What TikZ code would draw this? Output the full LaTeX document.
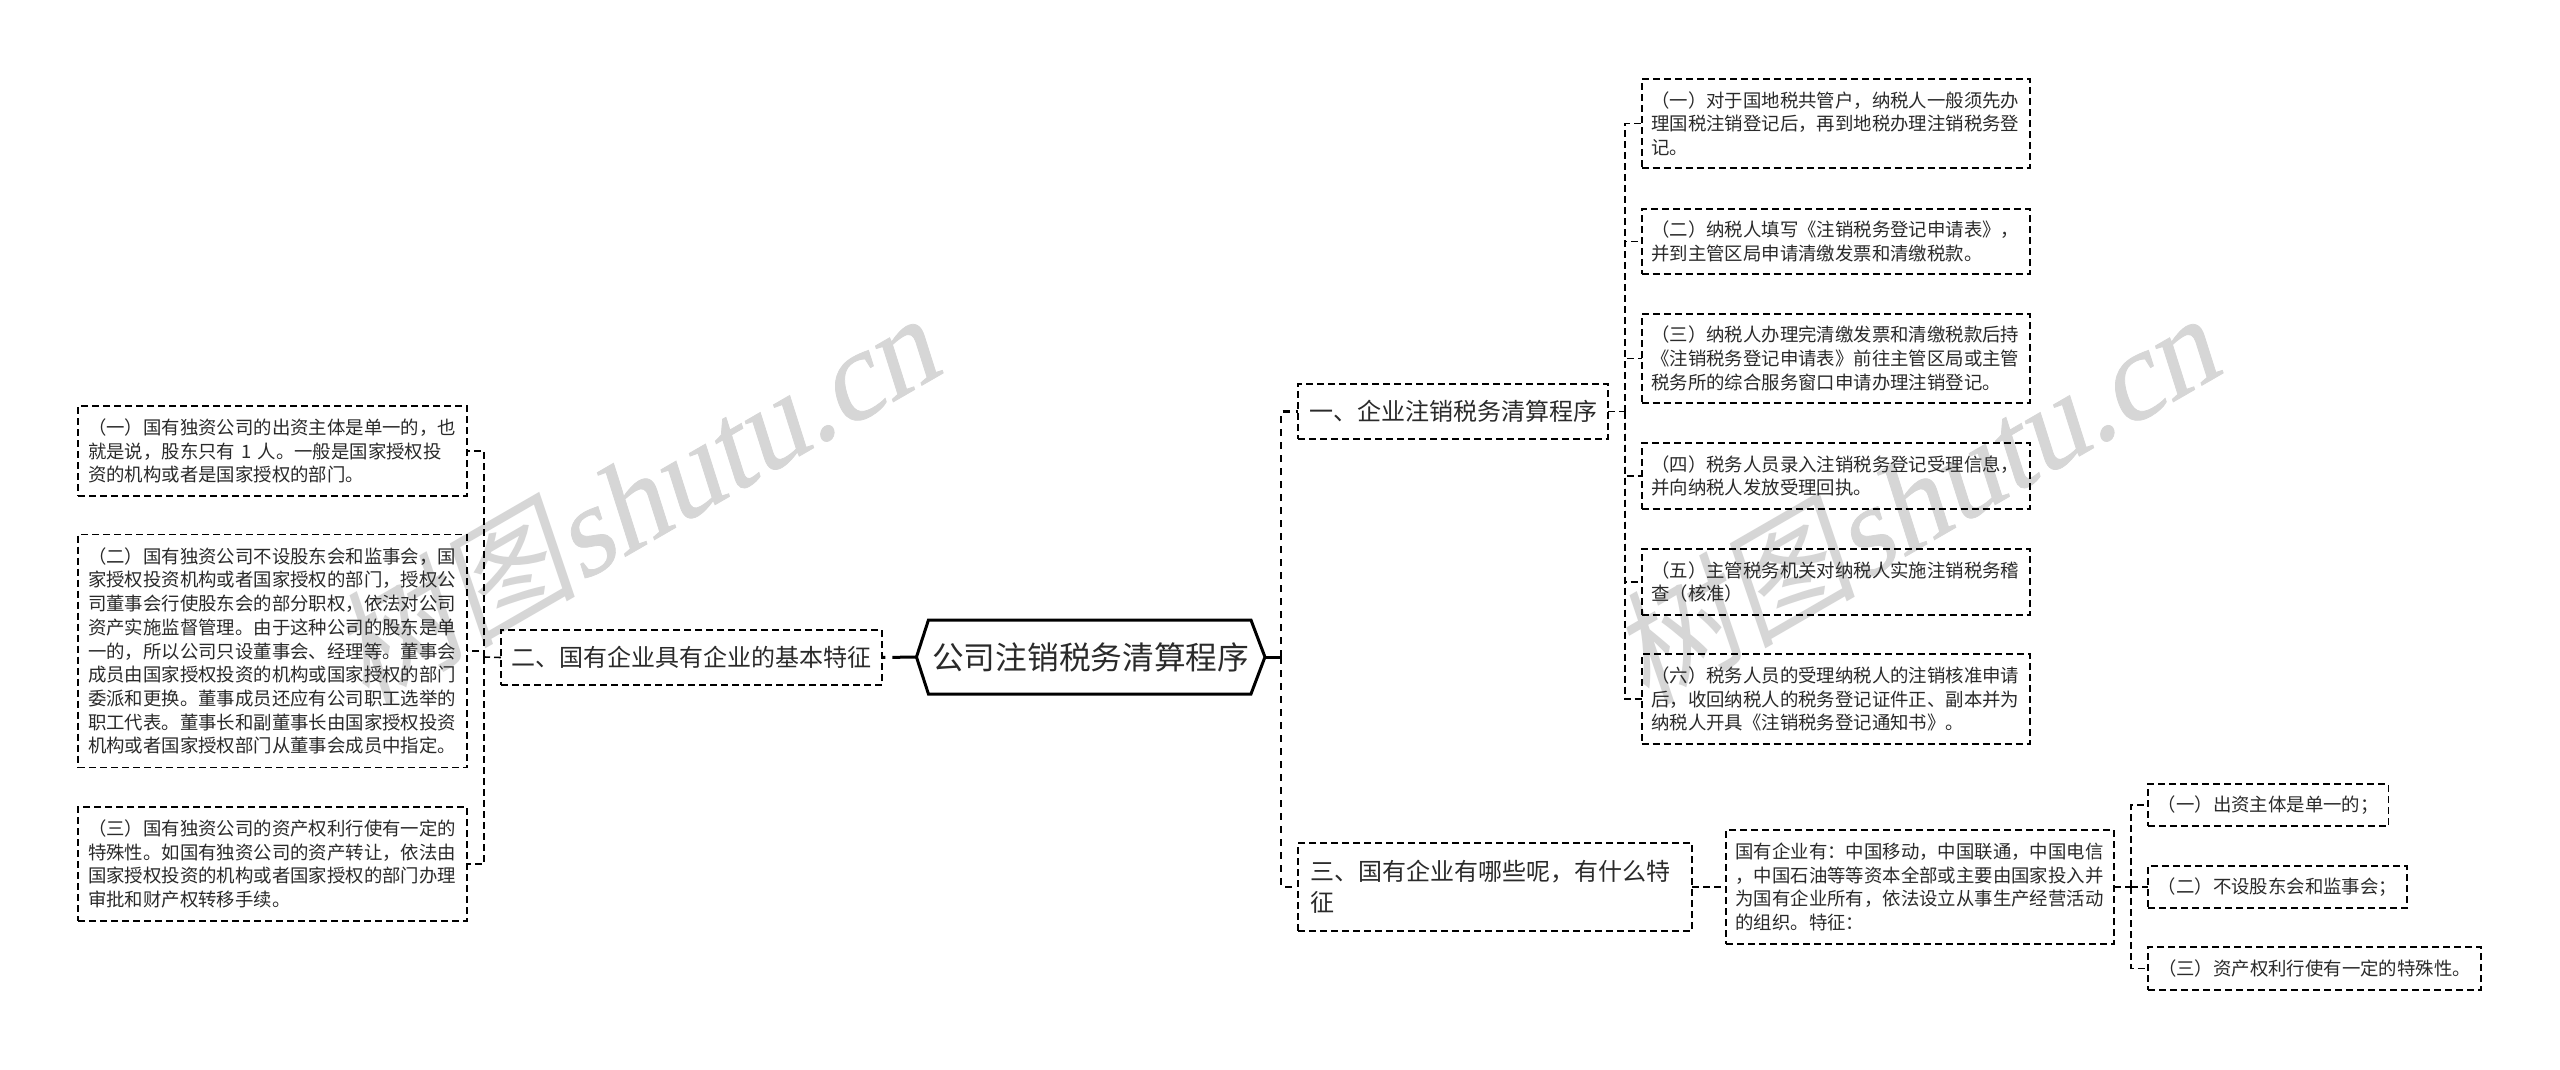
\documentclass[tikz,border=0pt]{standalone}
\usepackage{fontspec}
\usetikzlibrary{calc}
\setmainfont{Noto Sans CJK SC}
\newfontfamily\wmcn[FakeSlant=0.2]{Noto Sans CJK SC}
\newfontfamily\wmlat[FakeSlant=0.22,FakeBold=0.6]{Liberation Serif}
\definecolor{ink}{HTML}{2A2A2A}
\definecolor{mark}{HTML}{D6D6D6}
\tikzset{
  dashbox/.style={draw=black, line width=1.6pt, dash pattern=on 7pt off 4pt, inner sep=0pt, outer sep=0pt, align=left, text=ink},
  smallbox/.style={dashbox, font=\fontsize{18.4}{23.7}\selectfont},
  bigbox/.style={dashbox, font=\fontsize{24}{31}\selectfont},
  wide/.style={text width=369pt},
  rootbox/.style={inner sep=0pt, outer sep=0pt, text=ink, font=\fontsize{31.7}{36}\selectfont},
  rootline/.style={draw=black, line width=3pt, miter limit=10},
  conn/.style={draw=black, line width=1.6pt, dash pattern=on 7pt off 4pt},
  mainconn/.style={draw=black, line width=2.4pt, dash pattern=on 7pt off 6pt},
  thickconn/.style={draw=black, line width=3pt},
  wm/.style={text=mark, inner sep=0pt, rotate=30, anchor=base east, font=\fontsize{125}{125}\selectfont}
}
\newcommand{\wmtext}{{\fontsize{124}{124}\selectfont\wmcn 树图}{\wmlat shutu.cn}}
\begin{document}
\begin{tikzpicture}[x=1pt,y=-1pt]
\fill[white] (0,0) rectangle (2560,1069);
\useasboundingbox (0,0) rectangle (2560,1069);
% watermarks
\node[wm] (wma) at (945,372) {\wmtext};
\node[wm] (wmb) at (2225,372) {\wmtext};
% root
\node[rootbox, minimum width=348.5pt, minimum height=74pt] (root) at (1090.7,657) {公司注销税务清算程序};
\draw[rootline] (root.west) -- ($(root.north west)+(12,0)$) -- ($(root.north east)+(-14,0)$) -- (root.east) -- ($(root.south east)+(-14,0)$) -- ($(root.south west)+(12,0)$) -- cycle;
% left branch
\node[bigbox, minimum width=381pt, minimum height=55pt] (two) at (691.5,657.5) {二、国有企业具有企业的基本特征};
\node[smallbox, wide, minimum width=389pt, minimum height=90pt] (l1) at (272.5,451) {（一）国有独资公司的出资主体是单一的，也\\就是说，股东只有 1 人。一般是国家授权投\\资的机构或者是国家授权的部门。};
\node[smallbox, wide, minimum width=389pt, minimum height=233pt] (l2) at (272.5,651) {（二）国有独资公司不设股东会和监事会，国\\家授权投资机构或者国家授权的部门，授权公\\司董事会行使股东会的部分职权，依法对公司\\资产实施监督管理。由于这种公司的股东是单\\一的，所以公司只设董事会、经理等。董事会\\成员由国家授权投资的机构或国家授权的部门\\委派和更换。董事成员还应有公司职工选举的\\职工代表。董事长和副董事长由国家授权投资\\机构或者国家授权部门从董事会成员中指定。};
\node[smallbox, wide, minimum width=389pt, minimum height=114pt] (l3) at (272.5,864) {（三）国有独资公司的资产权利行使有一定的\\特殊性。如国有独资公司的资产转让，依法由\\国家授权投资的机构或者国家授权的部门办理\\审批和财产权转移手续。};
% right branch 1
\node[bigbox, minimum width=310pt, minimum height=55pt] (one) at (1453,411.5) {一、企业注销税务清算程序};
\node[smallbox, wide, minimum width=388pt, minimum height=89pt] (r1) at (1835.7,123.5) {（一）对于国地税共管户，纳税人一般须先办\\理国税注销登记后，再到地税办理注销税务登\\记。};
\node[smallbox, wide, minimum width=388pt, minimum height=65pt] (r2) at (1835.7,241.5) {（二）纳税人填写《注销税务登记申请表》，\\并到主管区局申请清缴发票和清缴税款。};
\node[smallbox, wide, minimum width=388pt, minimum height=89pt] (r3) at (1835.7,358.5) {（三）纳税人办理完清缴发票和清缴税款后持\\《注销税务登记申请表》前往主管区局或主管\\税务所的综合服务窗口申请办理注销登记。};
\node[smallbox, wide, minimum width=388pt, minimum height=66pt] (r4) at (1835.7,476) {（四）税务人员录入注销税务登记受理信息，\\并向纳税人发放受理回执。};
\node[smallbox, wide, minimum width=388pt, minimum height=66pt] (r5) at (1835.7,582) {（五）主管税务机关对纳税人实施注销税务稽\\查（核准）};
\node[smallbox, wide, minimum width=388pt, minimum height=90pt] (r6) at (1835.7,699) {（六）税务人员的受理纳税人的注销核准申请\\后，收回纳税人的税务登记证件正、副本并为\\纳税人开具《注销税务登记通知书》。};
% right branch 3
\node[bigbox, text width=370pt, minimum width=394pt, minimum height=88pt] (three) at (1495,887) {三、国有企业有哪些呢，有什么特\\征};
\node[smallbox, wide, minimum width=388pt, minimum height=114pt] (desc) at (1920,887) {国有企业有：中国移动，中国联通，中国电信\\，中国石油等等资本全部或主要由国家投入并\\为国有企业所有，依法设立从事生产经营活动\\的组织。特征：};
\node[smallbox, minimum width=240.5pt, minimum height=42pt] (a) at (2268.2,805) {（一）出资主体是单一的；};
\node[smallbox, minimum width=259pt, minimum height=42pt] (b) at (2277.5,887) {（二）不设股东会和监事会；};
\node[smallbox, minimum width=333pt, minimum height=43pt] (c) at (2314.5,968.5) {（三）资产权利行使有一定的特殊性。};
% junctions
\coordinate (jL) at (484,657);
\coordinate (jR) at (1281,657);
\coordinate (j1) at (1625,411.5);
\coordinate (j3) at (2131,887);
% connectors
\draw[thickconn, dash pattern=on 24pt off 7pt on 3pt off 10pt] (root.west) -- (two.east);
\draw[thickconn] (root.east) -- (jR);
\draw[conn] (two.west) -- (jL);
\foreach \n in {l1,l2,l3} \draw[conn] (jL) |- (\n.east);
\foreach \n in {one,three} \draw[mainconn] (jR) |- (\n.west);
\draw[conn] (one.east) -- (j1);
\foreach \n in {r1,r2,r3,r4,r5,r6} \draw[conn] (j1) |- (\n.west);
\draw[conn] (three.east) -- (desc.west);
\draw[conn] (desc.east) -- (j3);
\foreach \n in {a,b,c} \draw[conn] (j3) |- (\n.west);
\end{tikzpicture}
\end{document}
